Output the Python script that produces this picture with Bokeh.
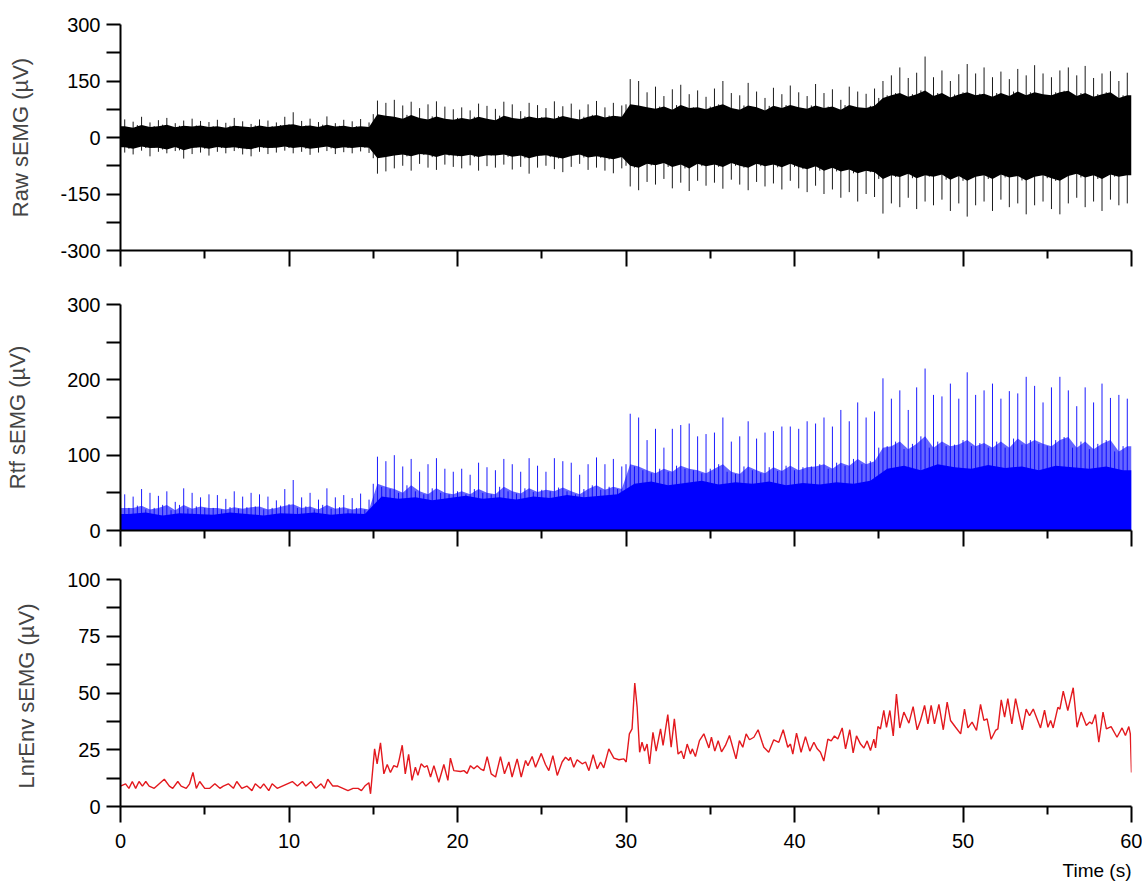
import numpy as np
from bokeh.plotting import figure
from bokeh.layouts import column
from bokeh.models import Range1d, FixedTicker, Title, CustomLabelingPolicy
from bokeh.embed import file_html
from bokeh.resources import INLINE

FONT = "Liberation Sans"

# time bins of 0.5 s (start of each bin)
t_bin = [i * 0.5 for i in range(120)]

# raw sEMG: dense band edges per 0.5 s bin (uV)
raw_core_hi = [30, 26, 33, 28, 30, 34, 27, 31, 29, 32,
               28, 30, 26, 31, 29, 27, 32, 28, 30, 33,
               35, 30, 32, 28, 34, 29, 31, 27, 30, 28,
               62, 58, 55, 50, 60, 52, 48, 56, 50, 47,
               52, 48, 55, 50, 46, 58, 52, 49, 56, 51,
               54, 50, 57, 52, 48, 55, 60, 53, 58, 55,
               88, 85, 80, 76, 82, 74, 86, 78, 80, 75,
               82, 88, 78, 74, 85, 80, 72, 84, 78, 86,
               80, 76, 85, 78, 82, 74, 86, 80, 78, 84,
               105, 112, 118, 108, 115, 125, 110, 118, 106, 114,
               120, 112, 116, 108, 118, 110, 122, 112, 120, 115,
               112, 120, 124, 110, 118, 108, 115, 120, 105, 112]
raw_core_lo = [-26, -30, -24, -28, -27, -32, -25, -34, -28, -26,
               -30, -25, -28, -26, -29, -31, -25, -28, -27, -24,
               -28, -25, -30, -27, -24, -29, -26, -28, -25, -27,
               -55, -52, -48, -45, -50, -44, -46, -52, -45, -48,
               -50, -46, -52, -47, -48, -45, -51, -48, -55, -49,
               -47, -52, -56, -49, -45, -53, -50, -54, -58, -52,
               -75, -80, -70, -74, -68, -78, -72, -82, -70, -76,
               -72, -78, -68, -75, -80, -70, -76, -72, -79, -70,
               -78, -84, -76, -88, -80, -90, -85, -95, -88, -92,
               -110, -100, -105, -96, -108, -100, -104, -98, -112, -102,
               -115, -104, -100, -110, -98, -106, -102, -114, -104, -100,
               -108, -115, -102, -96, -106, -100, -110, -98, -104, -100]

# raw sEMG: largest spikes per 0.5 s bin (uV)
raw_spike_hi = [48, 42, 55, 40, 46, 52, 38, 45, 50, 44,
                41, 47, 39, 52, 43, 36, 48, 45, 40, 55,
                67, 44, 50, 41, 56, 38, 47, 43, 49, 40,
                98, 92, 100, 85, 95, 78, 88, 96, 82, 75,
                80, 72, 90, 84, 76, 95, 88, 70, 92, 86,
                78, 96, 83, 90, 74, 88, 97, 80, 92, 85,
                155, 150, 120, 135, 110, 128, 140, 115, 125, 108,
                130, 150, 118, 112, 145, 122, 105, 132, 115, 138,
                120, 110, 142, 118, 128, 100, 135, 122, 116, 130,
                150, 165, 186, 158, 172, 215, 160, 178, 150, 168,
                195, 170, 186, 160, 175, 155, 182, 165, 192, 170,
                160, 178, 186, 165, 190, 158, 170, 176, 150, 172]
raw_spike_lo = [-40, -45, -35, -50, -38, -42, -36, -56, -44, -40,
                -48, -38, -42, -36, -45, -50, -38, -44, -40, -35,
                -42, -38, -46, -40, -36, -44, -39, -42, -37, -41,
                -96, -90, -82, -75, -88, -70, -80, -86, -72, -78,
                -82, -74, -88, -76, -80, -72, -85, -78, -96, -80,
                -75, -84, -92, -78, -70, -86, -80, -88, -95, -82,
                -130, -140, -118, -125, -110, -135, -120, -142, -115, -128,
                -120, -136, -112, -125, -140, -118, -130, -122, -138, -115,
                -135, -145, -128, -150, -138, -160, -145, -170, -150, -158,
                -202, -175, -185, -160, -190, -170, -180, -165, -195, -175,
                -210, -180, -170, -195, -165, -185, -175, -204, -180, -170,
                -190, -204, -175, -160, -185, -170, -195, -165, -180, -175]

# rectified sEMG: solid part per 1 s (uV)
t_sec = list(range(60))
rtf_core = [22, 24, 20, 23, 22, 21, 24, 22, 20, 23, 22, 24, 21, 23, 22,
            45, 42, 44, 40, 43, 46, 42, 44, 41, 45, 43, 47, 44, 46, 48,
            62, 65, 60, 63, 66, 61, 64, 62, 65, 60, 63, 61, 64, 62, 66,
            82, 86, 80, 88, 84, 82, 87, 83, 85, 80, 86, 84, 82, 85, 80]

# linear envelope (time s, value uV)
env_t = [0.0, 0.3, 0.5, 0.7, 0.9, 1.1, 1.3, 1.5, 1.7, 2.0, 2.3, 2.6, 2.9, 3.1, 3.4,
         3.6, 3.9, 4.1, 4.3, 4.5, 4.7, 5.0, 5.3, 5.6, 5.9, 6.1, 6.4, 6.7, 6.9, 7.2,
         7.5, 7.8, 8.0, 8.3, 8.5, 8.8, 9.0, 9.3, 9.6, 9.9, 10.2, 10.5, 10.8, 11.0, 11.3,
         11.6, 11.9, 12.1, 12.3, 12.6, 12.9, 13.2, 13.5, 13.8, 14.1, 14.3, 14.5, 14.74, 14.84,
         15.08, 15.23, 15.43, 15.63, 15.83, 16.02, 16.22, 16.42, 16.52, 16.72, 16.9, 17.1,
         17.3, 17.5, 17.65, 17.84, 18.04, 18.2, 18.4, 18.6, 18.89, 19.19, 19.43, 19.58,
         19.78, 20.18, 20.38, 20.57, 20.77, 20.97, 21.17, 21.36, 21.56, 21.76, 22.0, 22.26,
         22.55, 22.79, 23.05, 23.24, 23.54, 23.78, 24.04, 24.18, 24.43, 24.63, 24.97,
         25.22, 25.42, 25.66, 25.92, 26.21, 26.41, 26.61, 26.7, 26.9, 27.1, 27.4, 27.6,
         27.8, 28.05, 28.29, 28.49, 28.68, 28.98, 29.28, 29.58, 29.87, 30.01, 30.2, 30.36,
         30.52, 30.66, 30.81, 30.95, 31.1, 31.25, 31.4, 31.6, 31.79, 32.05, 32.2, 32.48,
         32.68, 32.87, 33.09, 33.29, 33.43, 33.63, 33.83, 33.93, 34.12, 34.36, 34.62, 34.92,
         35.07, 35.27, 35.47, 35.67, 35.9, 36.14, 36.53, 36.73, 36.93, 37.13, 37.33, 37.59,
         37.84, 38.08, 38.18, 38.47, 38.77, 39.07, 39.33, 39.6, 39.76, 39.9, 40.12, 40.39,
         40.65, 40.91, 41.15, 41.35, 41.54, 41.74, 41.98, 42.18, 42.37, 42.57, 42.83, 43.03,
         43.28, 43.48, 43.68, 43.92, 44.12, 44.31, 44.51, 44.71, 44.81, 44.95, 45.1, 45.3,
         45.46, 45.66, 45.86, 46.05, 46.25, 46.49, 46.79, 47.04, 47.28, 47.48, 47.72, 47.92,
         48.11, 48.31, 48.57, 48.83, 49.06, 49.26, 49.56, 49.86, 50.09, 50.29, 50.54, 50.8,
         51.04, 51.24, 51.43, 51.67, 51.93, 52.07, 52.27, 52.47, 52.66, 52.9, 53.12, 53.52,
         53.75, 53.95, 54.17, 54.6, 54.84, 55.04, 55.2, 55.35, 55.63, 55.75, 55.95, 56.22,
         56.54, 56.77, 57.01, 57.32, 57.52, 57.66, 57.86, 58.06, 58.31, 58.51, 58.79, 59.14,
         59.44, 59.64, 59.84, 59.93, 60.0]
env_v = [9, 10, 8, 11, 8, 11, 9, 11, 9, 8, 10, 12, 9, 8, 11,
         9, 8, 10, 15, 8, 11, 8, 8, 10, 8, 9, 10, 8, 11, 8,
         9, 7, 10, 8, 10, 7, 10, 8, 9, 10, 11, 9, 11, 9, 11,
         8, 10, 8, 12, 9, 9, 8, 7, 8, 8, 7, 9, 10.5, 5.6,
         25.4, 18.8, 28, 14.4, 18.5, 15, 18, 17.3, 20, 27, 14.4, 23,
         11.5, 17.3, 13.7, 18.8, 17.3, 18, 13, 18, 10.7, 18.5, 11.5, 21.3,
         15.8, 15.4, 15.8, 14.6, 18, 16.6, 18, 16.6, 15.8, 22, 14.4, 13,
         22, 14.4, 19.6, 13, 21, 13, 20.3, 18, 22, 17.3, 23.4,
         18.5, 15.8, 22.4, 13.7, 19.6, 21.7, 20.3, 21.7, 17.3, 20.6, 18.8, 19.6,
         15.8, 22.8, 16.6, 19.6, 17, 25.4, 21.3, 20.6, 21, 19.6, 32, 34.2,
         54.4, 43.8, 23.9, 28.3, 24.4, 27.5, 18.8, 32.7, 24.4, 34.2, 26.9, 40.5,
         26.1, 38.6, 23.1, 24.4, 21, 27.5, 23.1, 25.4, 22, 29, 32, 25.8,
         30.5, 24.4, 29, 24.1, 26.9, 31.3, 21, 29, 26.1, 32, 29.4, 30.5,
         33.8, 28.3, 26.1, 23.9, 29.4, 28.3, 33.8, 26.1, 27.5, 23.1, 32.3, 23.9,
         30.8, 24.4, 28.3, 25.4, 23.9, 20, 29.7, 28.9, 31.1, 29.7, 34.6, 25.4,
         33.8, 23.6, 31.1, 27.5, 25.8, 28.9, 24.7, 29.7, 25.8, 35.2, 34.2, 42.3,
         34.9, 42.3, 31.1, 49.5, 34.6, 41.6, 36.7, 44, 33.8, 37.9, 44.5, 36.4,
         44.5, 36.4, 45, 33.8, 46, 37.9, 34.9, 32, 42.9, 34.6, 37.2, 33.5,
         45, 37.9, 38.6, 29.6, 33.5, 34.2, 47, 39.4, 47.5, 36.4, 47.5, 33.8,
         42.9, 40, 42.9, 34.6, 42.4, 34.9, 37.9, 34.6, 43.7, 42.9, 50.8, 42.3,
         52.3, 34.9, 41.6, 35.7, 37.2, 36.4, 40.5, 28.3, 41.6, 34.2, 35.2, 30.5,
         34.6, 31.3, 35.2, 32, 15]

t_mid = [t + 0.25 for t in t_bin]
# polygon outline of the dense band, held flat to the ends of the record
band_x = [0.0] + t_mid + [60.0]
band_hi = [raw_core_hi[0]] + raw_core_hi + [raw_core_hi[-1]]
band_lo = [raw_core_lo[0]] + raw_core_lo + [raw_core_lo[-1]]

rtf_spike = np.maximum(raw_spike_hi, -np.array(raw_spike_lo))
rtf_mid = np.maximum(raw_core_hi, -np.array(raw_core_lo))
rtf_x = [0.0] + [t + 0.5 for t in t_sec] + [60.0]
rtf_y = [rtf_core[0]] + rtf_core + [rtf_core[-1]]
mid_y = [rtf_mid[0]] + list(rtf_mid) + [rtf_mid[-1]]

# the upper two panels show time ticks without labels
no_labels = CustomLabelingPolicy(code="return new indices.constructor(indices.size)")


def make_fig(height, top, bottom, yrange, label, ticks, minor, standoff, show_x):
    p = figure(width=1142, height=height, x_range=Range1d(0, 60),
               y_range=Range1d(*yrange), output_backend="svg",
               toolbar_location=None, min_border_left=120,
               min_border_right=11, min_border_top=top,
               min_border_bottom=bottom)
    p.grid.visible = False
    p.outline_line_color = None
    ya = p.yaxis[0]
    ya.ticker = FixedTicker(ticks=ticks, minor_ticks=minor)
    ya.major_label_overrides = {t: str(t) for t in ticks}
    ya.axis_label = label
    ya.axis_label_text_font = FONT
    ya.axis_label_text_font_style = "normal"
    ya.axis_label_text_font_size = "22px"
    ya.axis_label_standoff = standoff
    ya.major_label_text_font = FONT
    ya.major_label_text_font_size = "20px"
    ya.major_label_standoff = 6
    ya.major_tick_out = 14
    ya.major_tick_in = 0
    ya.minor_tick_out = 14
    ya.minor_tick_in = 0
    xa = p.xaxis[0]
    xa.ticker = FixedTicker(ticks=[0, 10, 20, 30, 40, 50, 60],
                            minor_ticks=[5, 15, 25, 35, 45, 55])
    xa.major_tick_out = 16
    xa.major_tick_in = 0
    xa.minor_tick_out = 8
    xa.minor_tick_in = 0
    xa.major_label_text_font = FONT
    if show_x:
        xa.major_label_text_font_size = "20px"
        xa.major_label_standoff = 11
    else:
        xa.major_label_policy = no_labels
        xa.major_label_text_font_size = "0px"
        xa.major_label_standoff = 0
    for ax in (xa, ya):
        ax.axis_line_width = 2
        ax.major_tick_line_width = 2
        ax.minor_tick_line_width = 2
        ax.axis_line_color = "black"
        ax.major_label_text_color = "black"
    return p


p1 = make_fig(277, 24, 27, (-300, 300), "Raw sEMG (µV)",
              [-300, -150, 0, 150, 300], [-225, -75, 75, 225], 24, False)
p1.varea(x=band_x, y1=band_lo, y2=band_hi, fill_color="black")
p1.segment(x0=t_mid, y0=raw_spike_lo, x1=t_mid, y1=raw_spike_hi,
           line_color="black", line_width=0.9)
p1.segment(x0=t_bin, y0=raw_core_lo, x1=t_bin, y1=raw_core_hi,
           line_color="black", line_width=0.9)

p2 = make_fig(277, 27, 24, (0, 300), "Rtf sEMG (µV)",
              [0, 100, 200, 300], [50, 150, 250], 34, False)
p2.varea(x=band_x, y1=0, y2=mid_y, fill_color="#0000ff", fill_alpha=0.6)
p2.varea(x=rtf_x, y1=0, y2=rtf_y, fill_color="#0000ff")
p2.segment(x0=t_bin, y0=0, x1=t_bin, y1=rtf_mid, line_color="#0000ff",
           line_width=0.9)
p2.segment(x0=t_mid, y0=0, x1=t_mid, y1=rtf_spike, line_color="#0000ff",
           line_width=0.9)

p3 = make_fig(336, 25, 84, (0, 100), "LnrEnv sEMG  (µV)",
              [0, 25, 50, 75, 100], [12.5, 37.5, 62.5, 87.5], 25, True)
p3.line(env_t, env_v, line_color="#e3191e", line_width=1.4)
p3.add_layout(Title(text="Time (s)", align="right", text_font=FONT,
                    text_font_size="19px", text_font_style="normal",
                    text_color="black", standoff=15), "below")

layout = column(p1, p2, p3)
open("out.html", "w").write(file_html(layout, INLINE))
